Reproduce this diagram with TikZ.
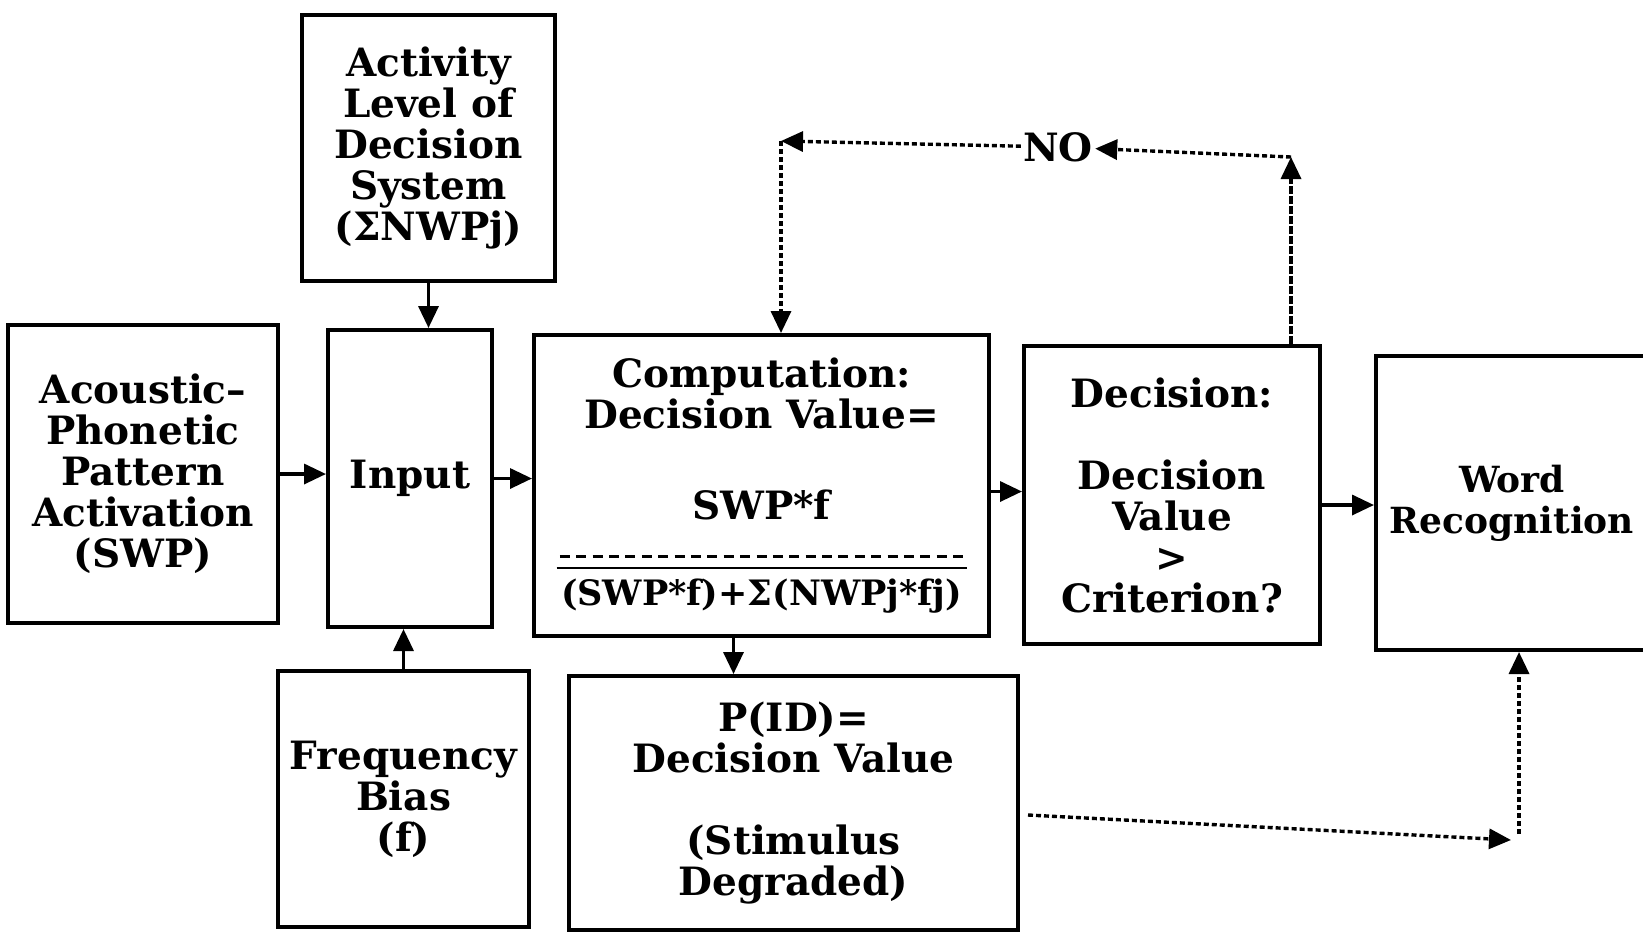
\documentclass[tikz,border=0pt]{standalone}
\usepackage{fontspec}
\setmainfont{DejaVu Serif}
\usetikzlibrary{arrows.meta}
\newcommand\txtfont{\bfseries\fontsize{19.5}{20.5}\selectfont}
\newcommand\dashrulebox{\hbox to 205pt{\xleaders\hbox to 8pt{\hss\rule{5pt}{1.5pt}\hss}\hfill}}
\newcommand\denom{{\fontsize{17.5}{20.5}\selectfont\makebox[205pt]{(SWP*f)+Σ(NWPj*fj)}}\llap{\raisebox{18pt}[0pt][0pt]{\rule{205pt}{1.4pt}}}\llap{\raisebox{23.5pt}[0pt][0pt]{\dashrulebox}}}
\begin{document}
\begin{tikzpicture}[x=0.5pt,y=-0.5pt,
  box/.style={draw, line width=2pt, inner sep=2pt, align=center, font=\txtfont},
  arr/.style={line width=1.7pt, -{Triangle[length=11pt,width=10pt]}},
  dotarr/.style={line width=1.7pt, dash pattern=on 2.5pt off 1.5pt, -{Triangle[length=11pt,width=10pt]}}]
\path[use as bounding box, fill=white] (0,0) rectangle (1643,934);

\node[box, minimum width=126.5pt, minimum height=133pt] (act) at (428.5,148) {Activity\\Level of\\Decision\\System\\(ΣNWPj)};
\node[box, minimum width=135pt, minimum height=149pt] (acou) at (143,474) {Acoustic–\\Phonetic\\Pattern\\Activation\\(SWP)};
\node[box, minimum width=82pt, minimum height=148.5pt] (inp) at (410,478.5) {Input};
\node[box, minimum width=227.5pt, minimum height=150.5pt] (comp) at (761.5,485.5) {Computation:\\Decision Value=\\[25pt]SWP*f\\[22.5pt]\denom};
\node[box, minimum width=148pt, minimum height=149pt] (dec) at (1172,495) {Decision:\\[20.5pt]Decision\\Value\\>\\Criterion?};
\node[box, minimum width=136pt, minimum height=147pt, font=\bfseries\fontsize{18}{20.5}\selectfont] (word) at (1512,503) {Word\\Recognition};
\node[box, minimum width=125.5pt, minimum height=128pt] (freq) at (403.5,799) {Frequency\\Bias\\(f)};
\node[box, minimum width=224.5pt, minimum height=127pt] (pid) at (793.5,803) {P(ID)=\\Decision Value\\[20.5pt](Stimulus\\Degraded)};

\node[font=\txtfont, inner sep=1pt] (no) at (1058,147) {NO};
\coordinate (nr) at (1291,157);
\coordinate (nl) at (781,141);
\coordinate (br) at (1519,834);

\draw[arr] (act.south) -- (act.south |- inp.north);
\draw[arr] (freq.north) -- (freq.north |- inp.south);
\draw[arr] (acou.east) -- (acou.east -| inp.west);
\draw[arr] (inp.east) -- (inp.east -| comp.west);
\draw[arr] ([yshift=-3pt]comp.east) -- ([yshift=-3pt]comp.east -| dec.west);
\draw[arr] ([yshift=-5pt]dec.east) -- ([yshift=-5pt]dec.east -| word.west);
\draw[arr] ([xshift=-14pt]comp.south) -- ([xshift=-14pt]comp.south |- pid.north);

\draw[dotarr, dash pattern=on 4pt off 1pt] (nr |- dec.north) -- (nr);
\draw[dotarr] (nr) -- (no);
\draw[dotarr] (no) -- (nl);
\draw[dotarr] (nl) -- (nl |- comp.north);

\draw[dotarr] ([xshift=4pt,yshift=-6pt]pid.east) -- ([xshift=-4pt,yshift=-3pt]br);
\draw[dotarr] (br) -- (br |- word.south);
\end{tikzpicture}
\end{document}
